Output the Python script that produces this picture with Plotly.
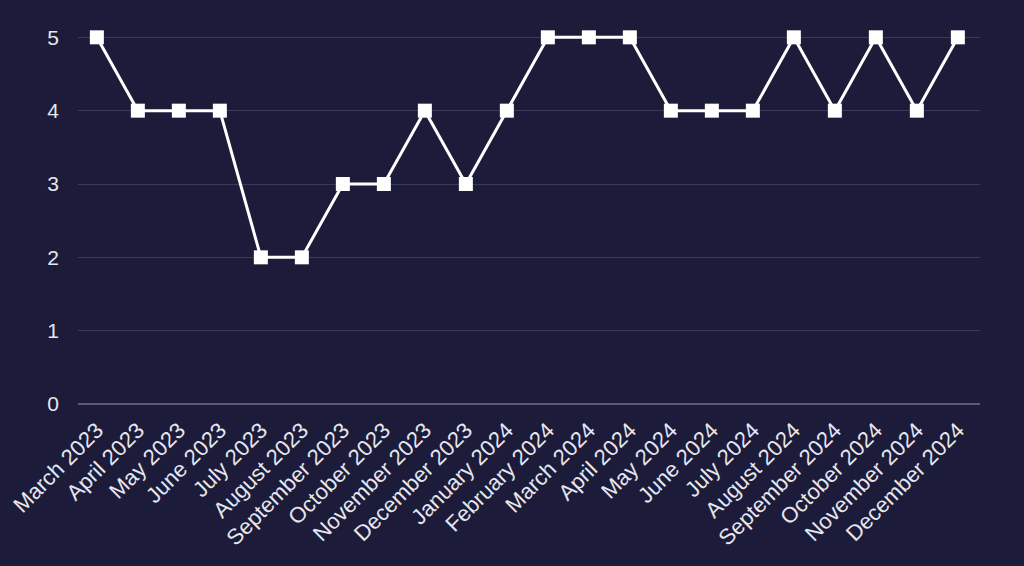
import plotly.graph_objects as go

months = ["March 2023", "April 2023", "May 2023", "June 2023", "July 2023", "August 2023",
          "September 2023", "October 2023", "November 2023", "December 2023", "January 2024",
          "February 2024", "March 2024", "April 2024", "May 2024", "June 2024", "July 2024",
          "August 2024", "September 2024", "October 2024", "November 2024", "December 2024"]
values = [5, 4, 4, 4, 2, 2, 3, 3, 4, 3, 4, 5, 5, 5, 4, 4, 4, 5, 4, 5, 4, 5]

bg = "#1c1c3a"
fig = go.Figure(go.Scatter(
    x=months, y=values, mode="lines+markers",
    line=dict(color="white", width=3),
    marker=dict(symbol="square", size=14, color="white"),
))
fig.update_layout(
    width=1024, height=566,
    paper_bgcolor=bg, plot_bgcolor=bg,
    margin=dict(l=78, r=44, t=19, b=162),
    font=dict(family="Liberation Sans, Arial", size=21, color="#e6e6ee"),
    showlegend=False,
)
fig.update_xaxes(tickangle=-45, showgrid=False, range=[-0.46, 21.54], ticks="", showline=False,
                 tickfont=dict(size=22), automargin=False, ticklabelstandoff=8)
fig.update_yaxes(range=[0, 5.25], dtick=1, gridcolor="#3a3b58", gridwidth=1, automargin=False,
                 zeroline=True, zerolinecolor="#5a5b74", zerolinewidth=2, ticks="", ticklabelstandoff=18)
fig.write_html("out.html")
